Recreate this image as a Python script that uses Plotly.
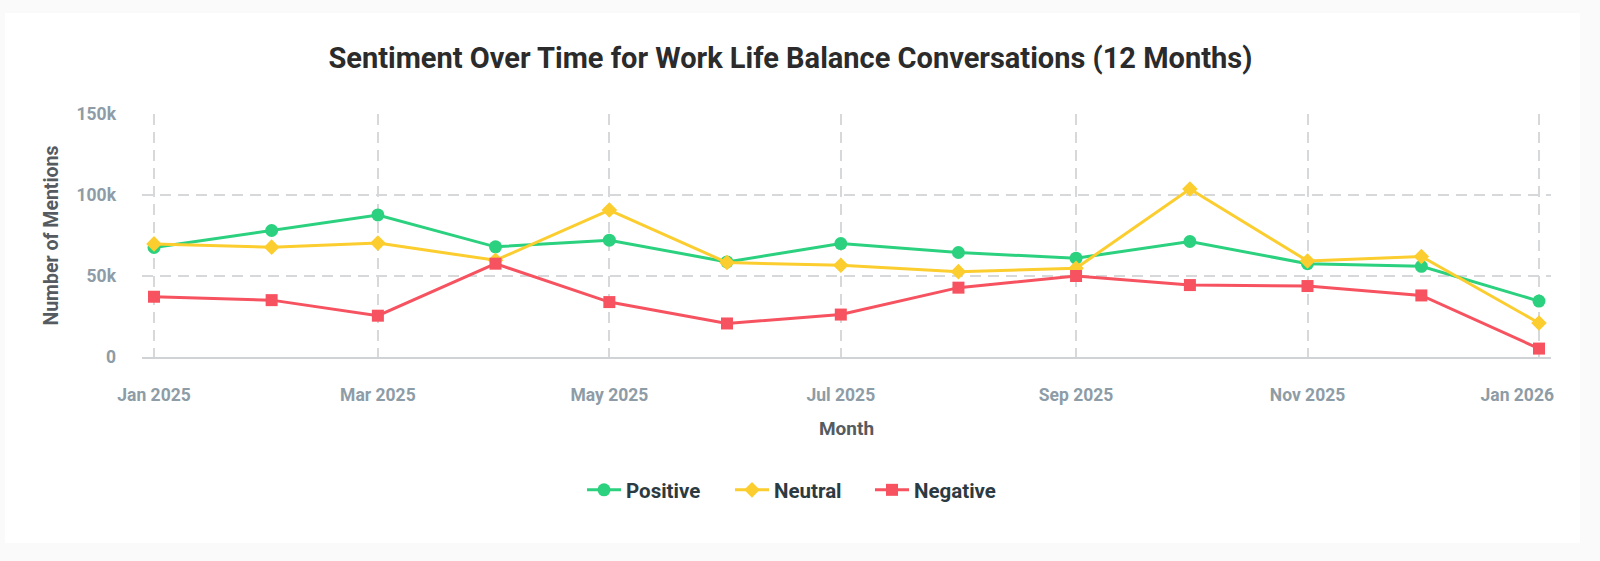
import plotly.graph_objects as go

months = ["2025-01-01", "2025-02-01", "2025-03-01", "2025-04-01", "2025-05-01", "2025-06-01",
          "2025-07-01", "2025-08-01", "2025-09-01", "2025-10-01", "2025-11-01", "2025-12-01",
          "2026-01-01"]
positive = [67600, 78100, 87700, 68000, 72100, 58700, 70000, 64500, 61000, 71300, 57600, 56000, 34500]
neutral = [69800, 67800, 70300, 59700, 90700, 58300, 56600, 52700, 54800, 103700, 59300, 62000, 21000]
negative = [37200, 35100, 25500, 57600, 33900, 20700, 26200, 42800, 50000, 44400, 43800, 38000, 5200]

x_tick_vals = ["2025-01-01", "2025-03-01", "2025-05-01", "2025-07-01", "2025-09-01",
               "2025-11-01", "2026-01-01"]
x_tick_text = ["Jan 2025", "Mar 2025", "May 2025", "Jul 2025", "Sep 2025", "Nov 2025", "Jan 2026"]
y_tick_vals = [0, 50000, 100000, 150000]
y_tick_text = ["0", "50k", "100k", "150k"]

series = [
    ("Positive", positive, "#2bd17e", "circle", 13, 99),
    ("Neutral", neutral, "#fccd2e", "diamond", 12, 91),
    ("Negative", negative, "#f7525f", "square", 12, 99),
]

fig = go.Figure()
for name, vals, color, sym, size, lw in series:
    fig.add_trace(go.Scatter(
        x=months, y=vals, name=name, mode="lines+markers",
        line=dict(color=color, width=3),
        marker=dict(color=color, symbol=sym, size=size),
        legendwidth=lw,
    ))

# plot area: left 142, right 1551, top 114, bottom 357
L, R, T, B = 142, 49, 114, 204
W, H = 1600, 561
pw, ph = W - L - R, H - T - B

def px_x(px):
    return (px - L) / pw

def px_y(py):
    return (H - B - py) / ph

fig.add_shape(type="rect", xref="paper", yref="paper",
              x0=px_x(5), x1=px_x(1580), y0=px_y(543), y1=px_y(13),
              fillcolor="white", line=dict(width=0), layer="below")

tick_color = "#8d9ca6"
grid_color = "#d6d8da"

# last label is pulled inside the plot edge, as in the reference
x_labels = x_tick_text[:-1] + [x_tick_text[-1] + "\u00a0" * 10]

fig.update_layout(
    width=W, height=H,
    margin=dict(l=L, r=R, t=T, b=B, autoexpand=False),
    paper_bgcolor="#fafafa",
    plot_bgcolor="rgba(0,0,0,0)",
    font=dict(family="Roboto", color="#333"),
    title=dict(
        text="<b>Sentiment Over Time for Work Life Balance Conversations (12 Months)</b>",
        font=dict(size=29, color="#2b2b2b", family="Roboto"),
        x=0.494, xanchor="center", xref="container",
        y=1 - 58 / H, yanchor="middle", yref="container",
    ),
    xaxis=dict(
        type="date",
        range=["2024-12-28 20:00", "2026-01-04 04:00"],
        tickvals=x_tick_vals, ticktext=x_labels,
        showgrid=True, gridcolor=grid_color, griddash="11px,7px", gridwidth=1.5,
        showline=True, linecolor="#d0d3d6", linewidth=1.5,
        ticks="", ticklabelstandoff=21,
        tickfont=dict(size=17.5, color=tick_color, family="Roboto", weight="bold"),
        title=dict(text="<b>Month</b>", font=dict(size=19, color="#555b60"), standoff=18),
        zeroline=False, automargin=False,
    ),
    yaxis=dict(
        range=[0, 150000],
        tickvals=y_tick_vals, ticktext=y_tick_text,
        showgrid=True, gridcolor=grid_color, griddash="11px,7px", gridwidth=1.5,
        zeroline=False, showline=False,
        ticks="", ticklabelstandoff=25,
        tickfont=dict(size=17.5, color=tick_color, family="Roboto", weight="bold"),
        title=dict(text="<b>Number of Mentions</b>", font=dict(size=19.5, color="#555b60"), standoff=12),
        automargin=False,
    ),
    legend=dict(
        orientation="h",
        x=px_x(582), xanchor="left",
        y=px_y(490), yanchor="middle",
        font=dict(size=20.5, color="#2c3a42", family="Roboto", weight="bold"),
        bgcolor="rgba(0,0,0,0)",
        itemwidth=34,
        entrywidthmode="pixels",
    ),
    showlegend=True,
)

fig.write_html("out.html")
